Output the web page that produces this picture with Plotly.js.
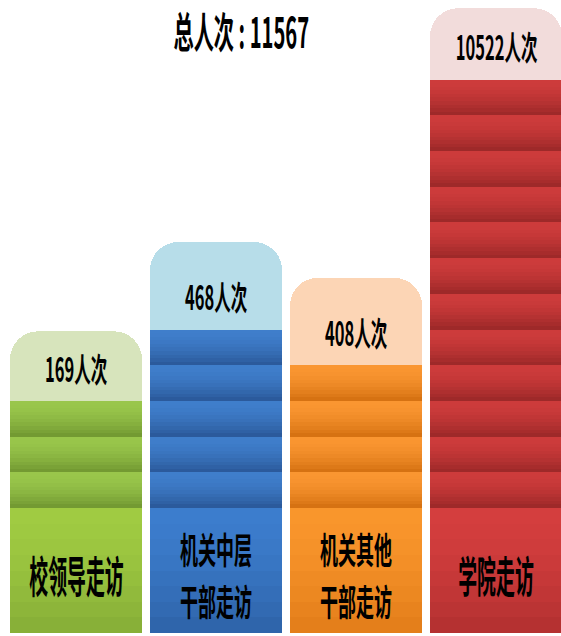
<!DOCTYPE html>
<html>
<head>
<meta charset="utf-8">
<script src="https://cdn.plot.ly/plotly-3.0.1.min.js"></script>
<style>
html, body { margin: 0; padding: 0; background: #ffffff; overflow: hidden; }
#chart { width: 561px; height: 636px; }
.annotation text { transform-box: fill-box; transform-origin: center; }
</style>
</head>
<body>
<div id="chart"></div>
<script>
// ---- data ----
const categories = ['校领导走访', '机关中层<br>干部走访', '机关其他<br>干部走访', '学院走访'];
const values = [169, 468, 408, 10522];
const blockCounts = [3, 5, 4, 12];
const valueUnit = '人次';
const titleLabel = '总人次';

// ---- style ----
const FONT = '"Noto Sans CJK SC", "Noto Sans", sans-serif';
const BASE_H = 3.5;
const CAP_H = [1.95, 2.45, 2.45, 2.0];
const LABEL_OFFSET = 0.93;
const BASE_LABEL_Y = 1.65;
const LINE_GAP = 1.47;
const capColors = ['#d7e4bc', '#b7dde9', '#fcd5b5', '#f2dcdb'];
const layerLight = ['#99c64b', '#3f7ecb', '#fa9631', '#cd3b3b'];
const layerDark = ['#739a32', '#2b5a9c', '#d67212', '#9e2929'];
const baseTop = ['#a0cb42', '#3c7dcd', '#f9962c', '#d43e3e'];
const baseBottom = ['#88b038', '#2f65ab', '#e47f1b', '#b53131'];

function hexToRgb(h) {
  return [parseInt(h.slice(1, 3), 16), parseInt(h.slice(3, 5), 16), parseInt(h.slice(5, 7), 16)];
}
function mix(a, b, t) {
  const A = hexToRgb(a), B = hexToRgb(b);
  return 'rgb(' + A.map((v, i) => Math.round(v + (B[i] - v) * t)).join(',') + ')';
}

const total = values.reduce((s, v) => s + v, 0);
const traces = [];
function band(yArr, colors) {
  traces.push({
    type: 'bar', x: categories, y: yArr,
    marker: { color: colors, line: { width: 0 } },
    hoverinfo: 'skip', showlegend: false
  });
}

// base block (bottom-up: darker at bottom)
const BASE_BANDS = 8;
for (let i = BASE_BANDS - 1; i >= 0; i--) {
  const t = Math.pow(i / (BASE_BANDS - 1), 1.4);
  band(categories.map(() => BASE_H / BASE_BANDS),
       categories.map((c, j) => mix(baseTop[j], baseBottom[j], t)));
}

// stacked blocks
const maxBlocks = Math.max(...blockCounts);
const LAYER_BANDS = 10;
for (let k = 0; k < maxBlocks; k++) {
  for (let i = LAYER_BANDS - 1; i >= 0; i--) {
    const t = Math.pow(i / (LAYER_BANDS - 1), 1.7);
    band(categories.map((c, j) => (k < blockCounts[j] ? 1 / LAYER_BANDS : 0)),
         categories.map((c, j) => mix(layerLight[j], layerDark[j], t)));
  }
}

// top cap
band(CAP_H.slice(), capColors.slice());

const annotations = [];
const scales = [];
function addAnn(a, sx) { annotations.push(a); scales.push(sx); }

addAnn({
  xref: 'paper', yref: 'paper', x: 0.4296, y: 0.953,
  xanchor: 'center', yanchor: 'middle', showarrow: false,
  text: titleLabel + ' : ' + total,
  font: { family: FONT, size: 42, color: '#000000', weight: 'bold' }
}, 0.48);
categories.forEach((c, j) => {
  addAnn({
    x: c, y: BASE_H + blockCounts[j] + LABEL_OFFSET,
    xanchor: 'center', yanchor: 'middle', showarrow: false,
    text: values[j] + valueUnit,
    font: { family: FONT, size: 33, color: '#000000', weight: 'bold' }
  }, 0.5);
});
categories.forEach((c, j) => {
  const lines = c.split('<br>');
  if (lines.length === 1) {
    addAnn({
      x: c, y: BASE_LABEL_Y,
      xanchor: 'center', yanchor: 'middle', showarrow: false,
      text: lines[0],
      font: { family: FONT, size: 43, color: '#000000', weight: 'bold' }
    }, 0.44);
  } else {
    lines.forEach((ln, m) => {
      addAnn({
        x: c, y: BASE_LABEL_Y + LINE_GAP * ((lines.length - 1) / 2 - m),
        xanchor: 'center', yanchor: 'middle', showarrow: false,
        text: ln,
        font: { family: FONT, size: 36, color: '#000000', weight: 'bold' }
      }, 0.5);
    });
  }
});

// horizontal compression of the narrow lettering
const css = scales.map((s, i) =>
  '.annotation[data-index="' + i + '"] text { transform: scaleX(' + s + '); }').join('\n');
const styleEl = document.createElement('style');
styleEl.textContent = css;
document.head.appendChild(styleEl);

const layout = {
  width: 561, height: 636,
  margin: { l: 0, r: 0, t: 0, b: 0 },
  paper_bgcolor: '#ffffff', plot_bgcolor: '#ffffff',
  barmode: 'stack', bargap: 0.057, barcornerradius: 28,
  showlegend: false,
  xaxis: { type: 'category', range: [-0.543, 3.464], visible: false, fixedrange: true },
  yaxis: { range: [-0.084, 17.73], visible: false, fixedrange: true },
  annotations: annotations
};

Plotly.newPlot('chart', traces, layout, { displayModeBar: false, staticPlot: true });
</script>
</body>
</html>
